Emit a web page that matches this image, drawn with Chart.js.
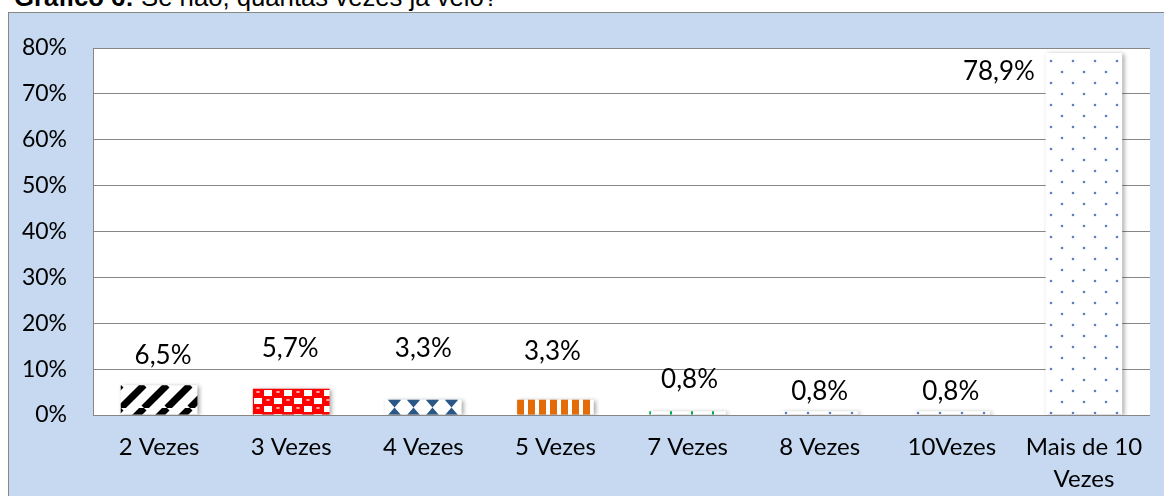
<!DOCTYPE html>
<html>
<head>
<meta charset="utf-8">
<script src="https://cdn.jsdelivr.net/npm/chart.js@4/dist/chart.umd.min.js"></script>
<style>
  body { margin: 0; width: 1164px; height: 496px; overflow: hidden; background: #fff; position: relative; }
  .frame { position: absolute; left: 8px; top: 12px; width: 1170px; height: 500px; border: 1px solid #878787; background: #c6d9f1; }
  .title { position: absolute; left: 14px; top: -15px; font: 25.7px "Liberation Sans", Arial, sans-serif; line-height: 25px; color: #000; white-space: nowrap; }
  canvas { position: absolute; left: 0; top: 0; }
</style>
</head>
<body>
<div class="frame"></div>
<div class="title"><b>Gráfico 6:</b> Se não, quantas vezes já veio?</div>
<canvas id="chart" width="1164" height="496"></canvas>
<script>
// Data
const categories = ["2 Vezes", "3 Vezes", "4 Vezes", "5 Vezes", "7 Vezes", "8 Vezes", "10Vezes", ["Mais de 10", "Vezes"]];
const percentages = [6.5, 5.7, 3.3, 3.3, 0.8, 0.8, 0.8, 78.9];
const yTicks = [0, 10, 20, 30, 40, 50, 60, 70, 80];

// where each value label sits, relative to the top centre of its bar
const labelOffsets = [[4, -30], [-1, -40], [0, -51], [-3, -48], [2, -32], [0, -20], [-1, -20], [-85, 19]];

//Helper Functions
const toPercentText = (value) => `${value.toFixed(1).replace(".", ",")}%`;

const makePattern = (w, h, draw) => {
  const tile = document.createElement("canvas");
  tile.width = w;
  tile.height = h;
  const c = tile.getContext("2d");
  c.fillStyle = "#fff";
  c.fillRect(0, 0, w, h);
  draw(c);
  return c.createPattern(tile, "repeat");
};

const stripes = () =>
  makePattern(23, 23, (c) => {
    c.strokeStyle = "#000";
    c.lineWidth = 7;
    [-23, 0, 23].forEach((o) => {
      c.beginPath();
      c.moveTo(o, 23);
      c.lineTo(o + 23, 0);
      c.stroke();
    });
  });

const spheres = () =>
  makePattern(20, 16, (c) => {
    c.fillStyle = "#ff0000";
    c.fillRect(0, 0, 20, 16);
    c.fillStyle = "#fff";
    c.fillRect(11, 1, 8, 6);
    c.fillRect(1, 9, 8, 6);
    c.fillStyle = "#ffb0b0";
    c.beginPath();
    c.ellipse(5, 3, 2, 1, 0, 0, Math.PI * 2);
    c.ellipse(15, 11, 2, 1, 0, 0, Math.PI * 2);
    c.fill();
  });

const bowties = () =>
  makePattern(19, 15, (c) => {
    c.fillStyle = "#2b5787";
    c.beginPath();
    c.moveTo(3, 0);
    c.lineTo(16, 0);
    c.lineTo(9.5, 7.5);
    c.closePath();
    c.moveTo(3, 15);
    c.lineTo(16, 15);
    c.lineTo(9.5, 7.5);
    c.closePath();
    c.fill();
  });

const orangeBars = () =>
  makePattern(11, 4, (c) => {
    c.fillStyle = "#e36c09";
    c.fillRect(0, 0, 7, 4);
  });

const greenTicks = () =>
  makePattern(21, 4, (c) => {
    c.fillStyle = "#00b050";
    c.fillRect(0, 0, 2, 4);
  });

const blueDots = () =>
  makePattern(22, 22, (c) => {
    c.fillStyle = "#5b80bb";
    [[5, 5], [16, 16]].forEach(([x, y]) => {
      c.beginPath();
      c.arc(x, y, 1.3, 0, Math.PI * 2);
      c.fill();
    });
  });

const barFills = [stripes(), spheres(), bowties(), orangeBars(), greenTicks(), blueDots(), blueDots(), blueDots()];

// white plot area
const plotBackground = {
  id: "plotBackground",
  beforeDraw(chart) {
    const { ctx, chartArea } = chart;
    ctx.save();
    ctx.fillStyle = "#fff";
    ctx.fillRect(chartArea.left, chartArea.top, chartArea.right - chartArea.left, chartArea.bottom - chartArea.top);
    ctx.restore();
  },
};

// line the patterns up with each bar (dots sit on the base), then a soft shadow
const barShadow = {
  id: "barShadow",
  beforeDatasetsDraw(chart) {
    const meta = chart.getDatasetMeta(0);
    meta.data.forEach((bar, i) => {
      const left = Math.round(bar.x - bar.width / 2);
      const top = i >= 5 ? Math.round(bar.base) - 7 : Math.round(bar.y);
      barFills[i].setTransform(new DOMMatrix().translate(left, top));
    });
    const ctx = chart.ctx;
    ctx.save();
    ctx.shadowColor = "rgba(0,0,0,0.35)";
    ctx.shadowBlur = 4;
    ctx.shadowOffsetX = 2;
    ctx.shadowOffsetY = 1;
  },
  afterDatasetsDraw(chart) {
    chart.ctx.restore();
  },
};

// value labels
const valueLabels = {
  id: "valueLabels",
  afterDatasetsDraw(chart) {
    const ctx = chart.ctx;
    const meta = chart.getDatasetMeta(0);
    ctx.save();
    ctx.font = '26px Lato, "Open Sans", sans-serif';
    ctx.fillStyle = "#000";
    ctx.textAlign = "center";
    ctx.textBaseline = "middle";
    meta.data.forEach((bar, i) => {
      const [dx, dy] = labelOffsets[i];
      ctx.fillText(toPercentText(percentages[i]), bar.x + dx, bar.y + dy);
    });
    ctx.restore();
  },
};

const canvas = document.getElementById("chart");
new Chart(canvas, {
  type: "bar",
  data: {
    labels: categories,
    datasets: [
      {
        data: percentages,
        backgroundColor: barFills,
        borderWidth: 0,
        categoryPercentage: 1,
        barPercentage: 0.58,
      },
    ],
  },
  options: {
    responsive: false,
    animation: false,
    layout: { padding: { top: 48, right: 14, left: 0, bottom: 0 } },
    plugins: {
      legend: { display: false },
      tooltip: { enabled: false },
    },
    scales: {
      x: {
        grid: { display: false, drawTicks: false },
        border: { display: false },
        ticks: {
          color: "#000",
          padding: 16,
          maxRotation: 0,
          autoSkip: false,
          font: { family: 'Lato, "Open Sans", sans-serif', size: 24, lineHeight: 1.35 },
        },
        afterFit: (scale) => {
          scale.height = 81;
        },
      },
      y: {
        min: 0,
        max: 80,
        afterBuildTicks: (scale) => {
          scale.ticks = yTicks.map((v) => ({ value: v }));
        },
        grid: { color: "#868686", lineWidth: 1, drawTicks: false },
        border: { display: true, color: "#868686", width: 1 },
        ticks: {
          color: "#000",
          padding: 26,
          callback: (value) => `${value}%`,
          font: { family: 'Lato, "Open Sans", sans-serif', size: 23 },
        },
        afterFit: (scale) => {
          scale.width = 93;
        },
      },
    },
  },
  plugins: [plotBackground, barShadow, valueLabels],
});
</script>
</body>
</html>
